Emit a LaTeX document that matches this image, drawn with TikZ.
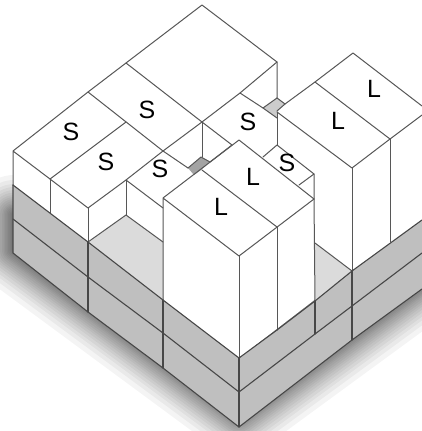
\documentclass[tikz,border=0pt]{standalone}
\usepackage{fontspec}
\setmainfont{Liberation Sans}
\tikzset{
  edge/.style={draw=black!66,line width=1pt,line join=round,line cap=round},
  darkedge/.style={draw=black!72,line width=1.1pt,line join=round,line cap=round},
  band/.style={fill=black!25},
  floorpatch/.style={fill=black!14},
  cellmid/.style={fill=black!20},
  celldark/.style={fill=black!36},
  tag/.style={font=\fontsize{25}{25}\selectfont,text=black,inner sep=0pt},
  shadowpath/.style={draw=black,fill=black,opacity=0.042,line join=round}
}
\begin{document}
\begin{tikzpicture}[x=1pt,y=-1pt]
\useasboundingbox (0,0) rectangle (422,431);
% soft shadow
\begin{scope}
\clip (0,0) rectangle (422,431);
\foreach \w in {3,6,9,12,15,18,21,24,28,32,36,40,45,50,56,62,70,80}{
  \path[shadowpath,line width=\w pt] (14,215) -- (14,250) -- (239,416) -- (422,282) -- (422,215) -- cycle;
}
\end{scope}
% white silhouette
\fill[white] (13,151) -- (88,92) -- (126,63) -- (202,5) -- (277,62) -- (277,98) -- (285,104) -- (353,53) -- (422,106) -- (422,220) -- (352,271) -- (239,358) -- (13,185) -- cycle;
% base bands
\path[band] (13,185) -- (88,242) -- (163,300) -- (239,358) -- (277,330) -- (315,301) -- (352,271) -- (422,220) -- (422,289) -- (352,340) -- (239,427) -- (163,368) -- (88,312) -- (13,253) -- cycle;
% floor patches and cells
\path[floorpatch] (88,242) -- (126,215) -- (163,242) -- (163,300) -- cycle;
\path[floorpatch] (315,243) -- (352,271) -- (315,301) -- cycle;
\path[cellmid] (263,108) -- (277,98) -- (285,104) -- (277,111) -- (277,118) -- cycle;
\path[celldark] (188,168) -- (201,157) -- (210,162) -- (201,170) -- (194,175) -- cycle;
% big block and S blocks
\draw[edge] (13,185) -- (13,151) -- (88,92) -- (126,63) -- (202,5) -- (277,62) -- (240,93) -- (202,122) -- (163,151) -- (126,180) -- (88,208) -- (50,179) -- (13,151);
\draw[edge] (126,63) -- (202,122);
\draw[edge] (88,92) -- (163,151) -- (188,168);
\draw[edge] (126,122) -- (50,179);
\draw[edge] (50,179) -- (50,213);
\draw[edge] (88,208) -- (88,242);
\draw[edge] (126,180) -- (126,215);
\draw[edge] (126,180) -- (163,208);
\draw[edge] (88,242) -- (126,215) -- (163,242);
\draw[edge] (202,122) -- (202,157);
\draw[edge] (202,122) -- (232,145);
\draw[edge] (188,168) -- (201,157) -- (210,162) -- (232,145);
\draw[edge] (277,62) -- (277,98) -- (263,108) -- (240,93);
\draw[edge] (263,108) -- (277,118);
\draw[edge] (277,98) -- (285,104);
% rear S block
\draw[edge] (263,157) -- (277,145) -- (314,174) -- (314,199);
\draw[edge] (299,185) -- (314,174);
\draw[edge] (277,112) -- (277,145);
% front tall L blocks
\draw[edge] (163,300) -- (163,198) -- (239,140) -- (314,199) -- (239,256) -- (163,198);
\draw[edge] (202,170) -- (277,227);
\draw[edge] (277,227) -- (277,330);
\draw[edge] (239,256) -- (239,358);
\draw[edge] (314,199) -- (315,301);
% rear tall L blocks
\draw[edge] (285,104) -- (315,82) -- (353,53) -- (422,106);
\draw[edge] (277,111) -- (285,104);
\draw[edge] (277,112) -- (352,168) -- (390,139) -- (422,115);
\draw[edge] (315,82) -- (390,139);
\draw[edge] (352,168) -- (352,271);
\draw[edge] (390,139) -- (390,242);
\draw[edge] (315,243) -- (352,271);
% base lines
\draw[darkedge] (13,185) -- (88,242) -- (163,300) -- (239,358) -- (277,330) -- (315,301) -- (352,271) -- (422,220);
\draw[darkedge] (13,219) -- (88,277) -- (163,333) -- (239,392) -- (315,334) -- (352,306) -- (422,253);
\draw[darkedge] (13,185) -- (13,253) -- (88,312) -- (163,368) -- (239,427) -- (352,340) -- (422,289);
\draw[darkedge] (88,242) -- (88,312);
\draw[darkedge] (163,300) -- (163,368);
\draw[darkedge] (239,358) -- (239,427);
\draw[darkedge] (315,301) -- (315,334);
\draw[darkedge] (352,271) -- (352,340);
% labels
\node[tag] (s1) at (71,132) {S};
\node[tag] (s2) at (147,110) {S};
\node[tag] (s3) at (106,162) {S};
\node[tag] (s4) at (160,169) {S};
\node[tag] (s5) at (248,122) {S};
\node[tag] (s6) at (287,163) {S};
\node[tag] (l1) at (374,89) {L};
\node[tag] (l2) at (338,121) {L};
\node[tag] (l3) at (253,177) {L};
\node[tag] (l4) at (221,207) {L};
\end{tikzpicture}
\end{document}
